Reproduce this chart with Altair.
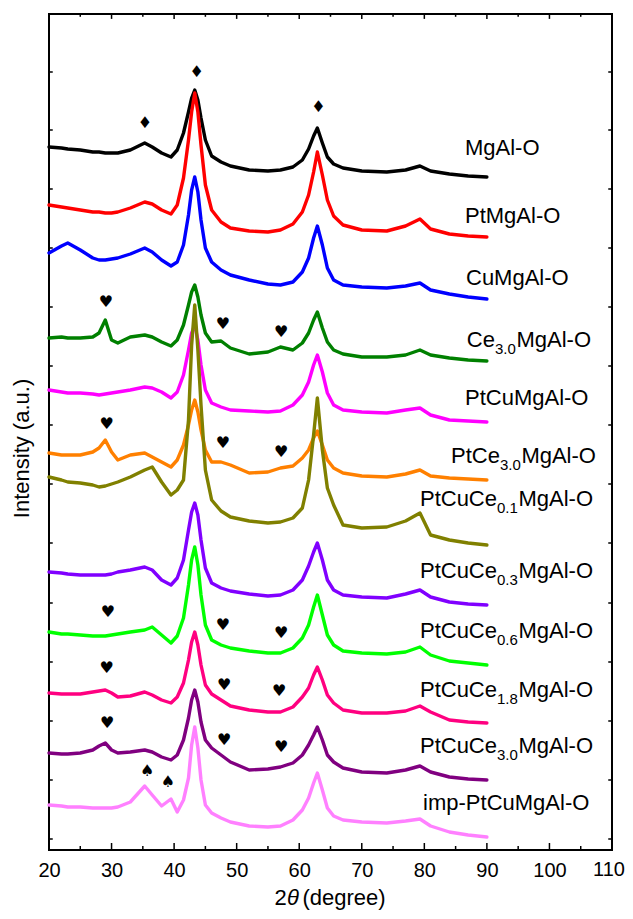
import altair as alt
import pandas as pd

# 2-theta sampling points (degree)
two_theta = [20, 22, 23, 25, 27, 28, 29, 30, 31, 33, 35.3, 36.5, 38, 39.5, 40.5, 41.5, 42.3, 42.8, 43.3, 43.8,
             44.3, 45, 46, 47.5, 49, 52, 55, 57, 59, 60.5, 61.5, 62.3, 62.9, 63.7, 64.5, 65.5, 67, 70, 74, 77,
             79.3, 81, 84, 87, 90]

# stacked intensities (a.u.)
mgal = [703, 702, 701, 700, 698, 698, 697, 697, 697, 700, 707, 703, 697, 693, 700, 717, 738, 752, 760, 750,
        732, 710, 694, 688, 684, 680, 679, 680, 683, 690, 701, 714, 722, 707, 693, 686, 682, 679, 678, 680,
        684, 679, 676, 674, 673]
ptmgal = [645, 643, 642, 640, 638, 638, 637, 637, 638, 642, 648, 646, 640, 636, 645, 672, 710, 738, 757, 738,
          705, 665, 640, 628, 622, 619, 618, 620, 626, 638, 655, 678, 698, 675, 650, 634, 625, 620, 619, 624,
          631, 621, 616, 614, 613]
cumgal = [597, 604, 607, 600, 592, 590, 590, 591, 592, 596, 602, 598, 590, 584, 588, 605, 635, 660, 673, 658,
          630, 602, 588, 580, 575, 570, 566, 565, 568, 578, 592, 612, 624, 605, 582, 570, 565, 563, 562, 564,
          567, 560, 556, 553, 551]
ce30 = [512, 513, 512, 512, 513, 517, 530, 510, 507, 513, 515, 513, 508, 504, 510, 525, 545, 558, 565, 553,
        535, 517, 508, 509, 502, 496, 498, 503, 500, 507, 517, 530, 538, 522, 508, 500, 496, 493, 493, 495,
        500, 495, 492, 490, 489]
ptcu = [460, 458, 457, 457, 456, 455, 456, 457, 458, 460, 463, 462, 458, 452, 458, 475, 500, 517, 525, 510,
        485, 460, 447, 443, 440, 439, 438, 439, 445, 455, 468, 485, 495, 478, 457, 445, 440, 438, 437, 440,
        442, 435, 430, 429, 428]
ptce30 = [397, 395, 395, 395, 398, 402, 410, 398, 390, 395, 397, 393, 388, 383, 390, 405, 425, 440, 450, 438,
          420, 400, 388, 388, 385, 377, 378, 382, 384, 392, 400, 412, 419, 405, 390, 382, 377, 374, 373, 376,
          380, 374, 372, 371, 370]
ptcuce01 = [373, 370, 368, 367, 365, 363, 364, 366, 368, 373, 380, 383, 368, 355, 360, 370, 430, 505, 545, 500,
            445, 380, 350, 339, 333, 329, 327, 328, 332, 342, 370, 415, 452, 400, 362, 345, 325, 322, 323, 329,
            337, 315, 310, 307, 305]
ptcuce03 = [278, 277, 276, 275, 275, 275, 275, 276, 278, 280, 283, 280, 270, 265, 272, 290, 320, 338, 347, 335,
            310, 282, 267, 262, 259, 256, 254, 255, 260, 270, 284, 298, 307, 290, 270, 260, 255, 253, 252, 256,
            260, 253, 248, 246, 245]
ptcuce06 = [218, 216, 216, 215, 214, 214, 214, 215, 216, 218, 220, 223, 215, 207, 214, 232, 265, 290, 303, 285,
            255, 225, 210, 205, 202, 199, 197, 197, 202, 212, 225, 243, 255, 235, 215, 205, 199, 197, 196, 198,
            203, 195, 189, 187, 185]
ptcuce18 = [157, 156, 156, 156, 158, 159, 160, 157, 153, 154, 158, 155, 150, 147, 153, 167, 190, 208, 218, 205,
            185, 165, 156, 150, 144, 140, 138, 138, 143, 153, 162, 175, 183, 170, 155, 147, 140, 137, 137, 139,
            144, 138, 130, 128, 127]
ptcuce30 = [97, 96, 96, 97, 100, 104, 107, 100, 97, 98, 100, 98, 93, 90, 95, 110, 132, 150, 160, 148,
            128, 110, 102, 95, 88, 80, 81, 83, 87, 95, 105, 115, 123, 110, 95, 88, 82, 78, 77, 80,
            84, 78, 73, 71, 70]
imp = [45, 44, 43, 43, 42, 42, 42, 42, 43, 48, 64, 55, 44, 51, 38, 50, 72, 105, 123, 102,
       70, 45, 37, 32, 28, 24, 23, 24, 30, 40, 52, 67, 77, 60, 42, 34, 30, 28, 27, 29,
       31, 24, 18, 15, 13]

series = [mgal, ptmgal, cumgal, ce30, ptcu, ptce30, ptcuce01, ptcuce03, ptcuce06, ptcuce18, ptcuce30, imp]
colors = ["#000000", "#FF0000", "#0000FF", "#008000", "#FF00FF", "#FF8000", "#808000", "#8000FF",
          "#00FF00", "#FF0080", "#800080", "#FF80FF"]

# labels: prefix, subscript, suffix, position (degree, a.u.)
label_pre = ["MgAl-O", "PtMgAl-O", "CuMgAl-O", "Ce", "PtCuMgAl-O", "PtCe", "PtCuCe", "PtCuCe", "PtCuCe",
             "PtCuCe", "PtCuCe", "imp-PtCuMgAl-O"]
label_sub = ["", "", "", "3.0", "", "3.0", "0.1", "0.3", "0.6", "1.8", "3.0", ""]
label_suf = ["", "", "", "MgAl-O", "", "MgAl-O", "MgAl-O", "MgAl-O", "MgAl-O", "MgAl-O", "MgAl-O", ""]
label_x = [86.5, 86.5, 86.66, 86.8, 86.5, 84.26, 79.3, 79.3, 79.3, 79.3, 79.3, 79.8]
label_y = [695, 627, 565, 503, 445, 387, 344, 272, 212, 153, 97, 40]

# phase markers
sym_text = ["♦", "♦", "♦",
            "♥", "♥", "♥",
            "♥", "♥", "♥",
            "♥", "♥", "♥",
            "♥", "♥", "♥",
            "♥", "♥", "♥",
            "♠", "♠"]
sym_x = [35.35, 43.6, 63.05,
         29.1, 47.8, 57.1,
         29.2, 47.8, 57.1,
         29.4, 47.8, 57.1,
         29.2, 48.0, 56.8,
         29.3, 48.0, 57.1,
         35.7, 39.0]
sym_y = [727, 778, 743,
         548, 526, 518,
         426, 407, 398,
         238, 225, 217,
         182, 165, 159,
         127, 110, 103,
         79, 68]

x_tick_labels = [20, 30, 40, 50, 60, 70, 80, 90, 100]
x_last_label = 110
x_ticks_major = [20, 30, 40, 50, 60, 70, 80, 90, 100, 110]
x_ticks_minor = [25, 35, 45, 55, 65, 75, 85, 95, 105]
y_ticks = [11, 70, 129, 188, 247, 307, 366, 425, 484, 543, 602, 661, 720, 778]

XMIN, XMAX, YMIN, YMAX = 20, 110, 0, 836
xscale = alt.Scale(domain=[XMIN, XMAX], nice=False, zero=False)
yscale = alt.Scale(domain=[YMIN, YMAX], nice=False, zero=False)

xaxis = alt.Axis(values=x_tick_labels, ticks=False, domain=False, grid=False, labelFontSize=20,
                 labelPadding=10, title=None, labelFlush=False)
yaxis = alt.Axis(labels=False, ticks=False, domain=False, grid=False, title="Intensity (a.u.)",
                 titleFontSize=22, titlePadding=16, titleY=434)


def X(field):
    return alt.X(field, scale=xscale, axis=xaxis)


def Y(field):
    return alt.Y(field, scale=yscale, axis=yaxis)


layers = []
for vals, col in zip(series, colors):
    df = pd.DataFrame({"x": two_theta, "I": vals})
    layers.append(
        alt.Chart(df).mark_line(color=col, strokeWidth=3.4, strokeJoin="round", strokeCap="round").encode(
            x=X("x:Q"), y=Y("I:Q"))
    )

# symbols
sym_df = pd.DataFrame({"x": sym_x, "y": sym_y, "t": sym_text})
layers.append(
    alt.Chart(sym_df).mark_text(font="DejaVu Sans", fontSize=16, color="black", baseline="middle").encode(
        x=X("x:Q"), y=Y("y:Q"), text="t:N")
)

# labels with subscripts
FS, SFS = 22, 15
pre_w = {"Ce": 28.1, "PtCe": 48.9, "PtCuCe": 77.0}
sub_w = 21.5
for pre, sub, suf, lx, ly in zip(label_pre, label_sub, label_suf, label_x, label_y):
    d = pd.DataFrame({"x": [lx], "y": [ly]})
    layers.append(alt.Chart(d).mark_text(text=pre, align="left", baseline="alphabetic", fontSize=FS,
                                         font="Liberation Sans", color="black").encode(x=X("x:Q"), y=Y("y:Q")))
    if sub:
        w = pre_w[pre]
        layers.append(alt.Chart(d).mark_text(text=sub, align="left", baseline="alphabetic", fontSize=SFS,
                                             font="Liberation Sans", color="black", dx=w, dy=7).encode(
            x=X("x:Q"), y=Y("y:Q")))
        layers.append(alt.Chart(d).mark_text(text=suf, align="left", baseline="alphabetic", fontSize=FS,
                                             font="Liberation Sans", color="black", dx=w + sub_w).encode(
            x=X("x:Q"), y=Y("y:Q")))

# last x tick label, kept inside the page edge
last_df = pd.DataFrame({"x": [x_last_label], "y": [YMIN], "t": [str(x_last_label)]})
layers.append(alt.Chart(last_df).mark_text(align="right", baseline="top", fontSize=20, font="Liberation Sans",
                                           color="black", dx=13, dy=10).encode(
    x=X("x:Q"), y=Y("y:Q"), text="t:N"))

# x-axis title: 2, italic theta, (degree)
xt_pos = pd.DataFrame({"x": [65.0], "y": [-55.0]})
TFS = 22
for txt, dxv, style in [("2", -56, "normal"), ("θ", -43.5, "italic"), ("(degree)", -28, "normal")]:
    layers.append(alt.Chart(xt_pos).mark_text(text=txt, align="left", baseline="alphabetic", fontSize=TFS,
                                              font="Liberation Sans", fontStyle=style, color="black",
                                              dx=dxv).encode(x=X("x:Q"), y=Y("y:Q")))

# inward ticks
bt = pd.DataFrame({"x": x_ticks_major + x_ticks_minor,
                   "len": [7] * len(x_ticks_major) + [4] * len(x_ticks_minor)})
bt["y0"] = YMIN
bt["y1"] = YMIN + bt["len"]
bt["t0"] = YMAX
bt["t1"] = YMAX - bt["len"] * 0.7
layers.append(alt.Chart(bt).mark_rule(color="black", strokeWidth=1.5).encode(
    x=X("x:Q"), y=Y("y0:Q"), y2="y1:Q"))
layers.append(alt.Chart(bt).mark_rule(color="black", strokeWidth=1.5).encode(
    x=X("x:Q"), y=Y("t0:Q"), y2="t1:Q"))

yt = pd.DataFrame({"y": y_ticks})
yt["l0"] = XMIN
yt["l1"] = XMIN + 0.6
yt["r0"] = XMAX
yt["r1"] = XMAX - 0.6
layers.append(alt.Chart(yt).mark_rule(color="black", strokeWidth=1.5).encode(
    y=Y("y:Q"), x=X("l0:Q"), x2="l1:Q"))
layers.append(alt.Chart(yt).mark_rule(color="black", strokeWidth=1.5).encode(
    y=Y("y:Q"), x=X("r0:Q"), x2="r1:Q"))

chart = alt.layer(*layers).properties(
    width=563, height=836,
    autosize=alt.AutoSizeParams(type="none"),
    padding={"left": 41, "top": 6, "right": 13, "bottom": 61},
).configure_view(stroke="black", strokeWidth=2).configure_axis(
    labelFont="Liberation Sans", titleFont="Liberation Sans", titleFontWeight="normal",
    labelColor="black", titleColor="black"
)

chart.save("out.html", embed_options={"renderer": "svg", "actions": False})
